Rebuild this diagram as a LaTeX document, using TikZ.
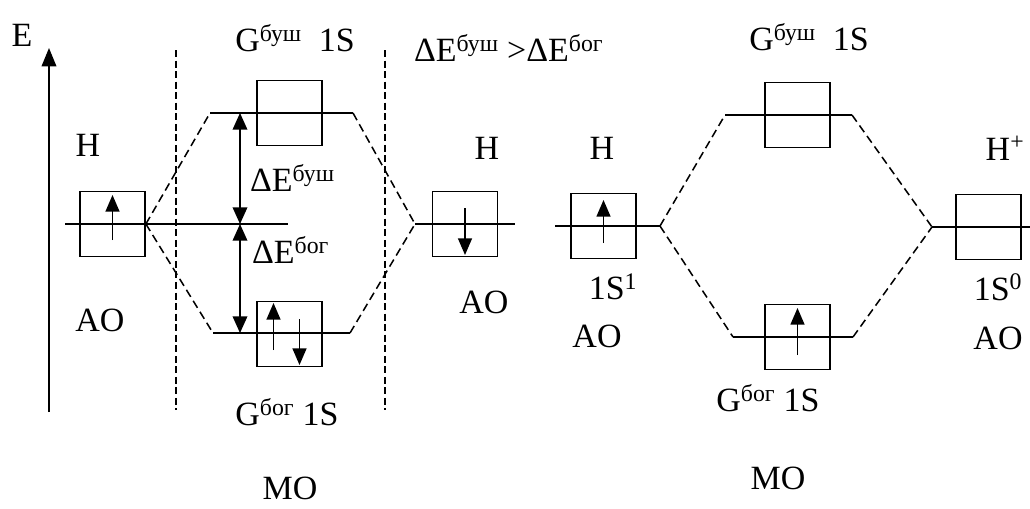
\documentclass[tikz,border=0pt]{standalone}
\usepackage{fontspec}
\setmainfont{Liberation Serif}
\usetikzlibrary{arrows.meta,positioning}
\tikzset{
  orb/.style={draw, line width=1.5pt, minimum size=19.5mm, inner sep=0pt},
  lvl/.style={line width=1.5pt},
  link/.style={line width=1.3pt, dash pattern=on 7pt off 4pt},
  sepline/.style={line width=1.2pt, dash pattern=on 6pt off 3pt},
  spin/.style={line width=1.2pt, -{Triangle[length=5mm,width=4.2mm]}},
  gaparrow/.style={line width=1.2pt, {Triangle[length=5mm,width=4.4mm]}-{Triangle[length=5mm,width=4.4mm]}},
}

\begin{document}
\begin{tikzpicture}[x=0.3mm, y=-0.3mm, every node/.style={font=\fontsize{29}{32}\selectfont}]
   \useasboundingbox (0,0) rectangle (1030,508);

   % energy axis and separators
   \coordinate (axb) at (49,412);
   \coordinate (axt) at (49,48);
   \draw[line width=1.2pt, -{Triangle[length=5.5mm,width=4.4mm]}] (axb) -- (axt);
   \node (elbl) at (22,35) {E};
   \coordinate (s1t) at (176,50);  \coordinate (s1b) at (176,410);
   \coordinate (s2t) at (385,50);  \coordinate (s2b) at (385,410);
   \draw[sepline] (s1t) -- (s1b);
   \draw[sepline] (s2t) -- (s2b);

   % left diagram: H + H
   \node[orb] (hA) at (112.5,224) {};
   \coordinate (hAl) at (65,224);  \coordinate (hAr) at (288,224);
   \draw[lvl] (hAl) -- (hAr);
   \draw[spin] (hA.center) ++(0,16) -- ++(0,-45);

   \node[orb] (mAu) at (289.5,113) {};
   \coordinate (mAul) at (210,113);  \coordinate (mAur) at (353,113);
   \draw[lvl] (mAul) -- (mAur);

   \node[orb] (mAd) at (289.5,334) {};
   \coordinate (mAdl) at (213,333);  \coordinate (mAdr) at (350,333);
   \draw[lvl] (mAdl) -- (mAdr);
   \draw[spin] (mAd.center) ++(-16,16) -- ++(0,-47);
   \draw[spin] (mAd.center) ++(10,-15) -- ++(0,46);

   \node[orb] (hB) at (465,224) {};
   \coordinate (hBl) at (415,224);  \coordinate (hBr) at (515,224);
   \draw[lvl] (hBl) -- (hBr);
   \draw[spin] (hB.center) ++(0,-16) -- ++(0,47);

   \draw[link] (hA.east) -- (mAul);
   \draw[link] (hA.east) -- (mAdl);
   \draw[link] (mAur) -- (hBl);
   \draw[link] (mAdr) -- (hBl);

   \coordinate (g1) at (240,113);
   \coordinate (g2) at (240,224);
   \coordinate (g3) at (240,333);
   \draw[gaparrow] (g1) -- (g2);
   \draw[gaparrow] (g2) -- (g3);

   \node (tAu) at (295,38) {G\textsuperscript{буш}\enspace 1S};
   \node[anchor=west] (cmp) at (410,48) {ΔE\textsuperscript{буш} >ΔE\textsuperscript{бог}};
   \node[anchor=west] (dEu) at (246,178) {ΔE\textsuperscript{буш}};
   \node[anchor=west] (dEd) at (248,250) {ΔE\textsuperscript{бог}};
   \node (lHA) at (88,145) {H};
   \node (aoA) at (100,320) {AO};
   \node (lHB) at (487,148) {H};
   \node (aoB) at (484,302) {AO};
   \node (tAd) at (287,412) {G\textsuperscript{бог} 1S};
   \node (moA) at (290,488) {MO};

   % right diagram: H + H+
   \node[orb] (hC) at (603.5,226) {};
   \coordinate (hCl) at (555,226);  \coordinate (hCr) at (660,226);
   \draw[lvl] (hCl) -- (hCr);
   \draw[spin] (hC.center) ++(0,17) -- ++(0,-43);

   \node[orb] (mBu) at (797.5,115) {};
   \coordinate (mBul) at (725,115);  \coordinate (mBur) at (852,115);
   \draw[lvl] (mBul) -- (mBur);

   \node[orb] (mBd) at (797.5,337) {};
   \coordinate (mBdl) at (733,337);  \coordinate (mBdr) at (853,337);
   \draw[lvl] (mBdl) -- (mBdr);
   \draw[spin] (mBd.center) ++(0,18) -- ++(0,-47);

   \node[orb] (hD) at (988.5,227) {};
   \coordinate (hDl) at (932,227);  \coordinate (hDr) at (1030,227);
   \draw[lvl] (hDl) -- (hDr);

   \draw[link] (hCr) -- (mBul);
   \draw[link] (hCr) -- (mBdl);
   \draw[link] (mBur) -- (hDl);
   \draw[link] (mBdr) -- (hDl);

   \node (tBu) at (809,37) {G\textsuperscript{буш}\enspace 1S};
   \node (lHC) at (602,148) {H};
   \node (lHD) at (1005,148) {H\textsuperscript{+}};
   \node (cfC) at (613,287) {1S\textsuperscript{1}};
   \node (aoC) at (597,336) {AO};
   \node (cfD) at (998,287) {1S\textsuperscript{0}};
   \node (aoD) at (998,338) {AO};
   \node (tBd) at (768,398) {G\textsuperscript{бог} 1S};
   \node (moB) at (778,478) {MO};
\end{tikzpicture}
\end{document}
